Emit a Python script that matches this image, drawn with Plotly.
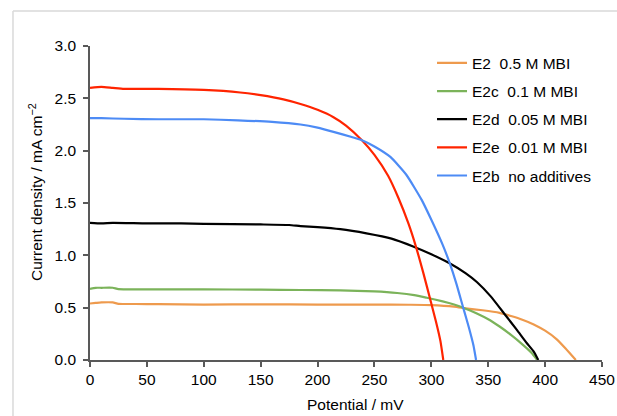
import plotly.graph_objects as go

# Potential (mV) and current density (mA cm^-2)
e2_x = [0, 5, 10, 20, 25, 40, 60, 100, 150, 200, 250, 280, 300, 320, 330, 345, 360, 370, 380, 390, 400, 410, 418, 427]
e2_y = [0.54, 0.545, 0.55, 0.55, 0.537, 0.535, 0.533, 0.53, 0.532, 0.53, 0.53, 0.528, 0.525, 0.51, 0.494, 0.475, 0.45, 0.42, 0.385, 0.34, 0.28, 0.2, 0.11, 0.0]

e2c_x = [0, 5, 10, 20, 25, 50, 100, 150, 185, 220, 250, 270, 285, 296, 310, 320, 328, 340, 350, 360, 370, 380, 388, 393]
e2c_y = [0.68, 0.69, 0.69, 0.69, 0.677, 0.675, 0.675, 0.672, 0.669, 0.665, 0.655, 0.64, 0.62, 0.595, 0.56, 0.53, 0.5, 0.445, 0.39, 0.32, 0.24, 0.15, 0.07, 0.0]

e2d_x = [0, 10, 20, 50, 80, 100, 150, 175, 185, 200, 220, 243, 265, 284, 300, 316, 330, 340, 352, 365, 375, 384, 390, 394]
e2d_y = [1.31, 1.305, 1.31, 1.305, 1.305, 1.3, 1.295, 1.29, 1.28, 1.27, 1.25, 1.21, 1.16, 1.085, 1.01, 0.924, 0.83, 0.745, 0.61, 0.43, 0.29, 0.16, 0.08, 0.0]

e2e_x = [0, 10, 20, 30, 60, 100, 132, 150, 170, 185, 200, 214, 225, 239, 250, 262, 271, 280, 286, 293, 299, 304, 308, 310.5]
e2e_y = [2.6, 2.61, 2.6, 2.59, 2.59, 2.58, 2.556, 2.53, 2.49, 2.446, 2.39, 2.32, 2.24, 2.1, 1.96, 1.76, 1.55, 1.3, 1.1, 0.83, 0.58, 0.37, 0.18, 0.0]

e2b_x = [0, 10, 30, 60, 100, 130, 160, 185, 200, 214, 230, 239, 250, 264, 278, 291.5, 300, 310, 316, 322, 328, 333, 337, 339.3]
e2b_y = [2.31, 2.31, 2.305, 2.3, 2.3, 2.29, 2.275, 2.25, 2.22, 2.18, 2.13, 2.1, 2.04, 1.94, 1.77, 1.53, 1.34, 1.1, 0.93, 0.73, 0.5, 0.31, 0.14, 0.0]

names = ["E2\u00a0\u00a00.5 M MBI", "E2c\u00a0\u00a00.1 M MBI", "E2d\u00a0\u00a00.05 M MBI",
         "E2e\u00a0\u00a00.01 M MBI", "E2b\u00a0\u00a0no additives"]
colors = ["#EE9A4D", "#7BB35A", "#000000", "#FF2400", "#4D8BF5"]
xs = [e2_x, e2c_x, e2d_x, e2e_x, e2b_x]
ys = [e2_y, e2c_y, e2d_y, e2e_y, e2b_y]

x_ticks = [0, 50, 100, 150, 200, 250, 300, 350, 400, 450]
y_ticks = [0.0, 0.5, 1.0, 1.5, 2.0, 2.5, 3.0]
x_title = "Potential / mV"
y_title = "Current density / mA cm<sup>\u22122</sup>"

fig = go.Figure()
for i in range(5):
    fig.add_trace(go.Scatter(x=xs[i], y=ys[i], mode="lines", name=names[i],
                             legendgroup=str(i),
                             line=dict(color=colors[i], width=2.2, shape="spline", smoothing=0.5)))

FAM = "Liberation Sans, Arial, sans-serif"
font = dict(family=FAM, size=15.5, color="#000000")
axis_common = dict(showgrid=False, zeroline=False, showline=True, linecolor="#595959", linewidth=1.5,
                   ticks="outside", ticklen=5, tickcolor="#595959", tickwidth=1.5,
                   automargin=False, tickfont=font)
fig.update_layout(
    width=617, height=416,
    margin=dict(l=90, r=15, t=46, b=56, autoexpand=False),
    paper_bgcolor="white", plot_bgcolor="white",
    font=font,
    showlegend=True,
    legend=dict(x=0.668, y=0.999, xanchor="left", yanchor="top",
                traceorder="grouped", tracegroupgap=5,
                itemwidth=30, font=dict(size=15.5, family=FAM, color="#000000"),
                bgcolor="rgba(0,0,0,0)"),
    xaxis=dict(range=[0, 450], tickvals=x_ticks, ticktext=[str(v) for v in x_ticks], **axis_common),
    yaxis=dict(range=[0, 3.0], tickvals=y_ticks, ticktext=["%.1f" % v for v in y_ticks],
               ticklabelstandoff=4, **axis_common),
    annotations=[
        dict(text=x_title, xref="paper", yref="paper", x=0.5176, y=-0.1433,
             xanchor="center", yanchor="middle", showarrow=False, font=font),
        dict(text=y_title, xref="paper", yref="paper", x=-0.1055, y=0.535, textangle=-90,
             xanchor="center", yanchor="middle", showarrow=False, font=font),
    ],
    shapes=[
        dict(type="line", xref="paper", yref="paper", x0=-0.1504, x1=1.03, y0=1.1115, y1=1.1115,
             line=dict(color="#D9D9D9", width=1.5)),
        dict(type="line", xref="paper", yref="paper", x0=-0.1504, x1=-0.1504, y0=1.1115, y1=-0.18,
             line=dict(color="#D9D9D9", width=1.5)),
    ],
)

fig.write_html("out.html")
